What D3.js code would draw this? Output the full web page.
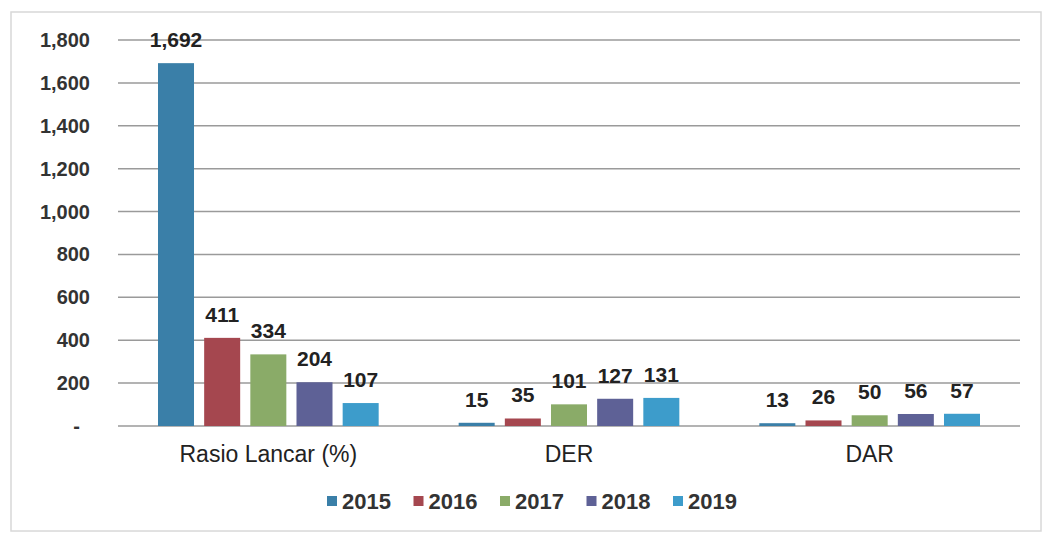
<!DOCTYPE html>
<html>
<head>
<meta charset="utf-8">
<script src="https://cdn.jsdelivr.net/npm/d3@7"></script>
<style>
body{margin:0;background:#fff;}
svg text{font-family:"Liberation Sans",Arial,sans-serif;}
</style>
</head>
<body>
<script>
var categories = ['Rasio Lancar (%)','DER','DAR'];
var years = ['2015','2016','2017','2018','2019'];
var values = [
	[1692,411,334,204,107],
	[15,35,101,127,131],
	[13,26,50,56,57]
];
var yTicks = [0,200,400,600,800,1000,1200,1400,1600,1800];
var colors = ['#3a7fa8','#a5474f','#8aab68','#5e6196','#3d9ccb'];

var width = 1044, height = 534;
var svg = d3.select('body').append('svg').attr('width',width).attr('height',height);

//frame
svg.append('rect').attr('x',11).attr('y',12).attr('width',1030).attr('height',519)
	.attr('fill','none').attr('stroke','#d8d8d8').attr('stroke-width',1.5);

var x0 = d3.scaleBand().domain(categories).range([118,1020]);
var x1 = d3.scaleBand().domain(years).range([40,x0.bandwidth()-40]).paddingInner(0.22);
var y = d3.scaleLinear().domain([0,1800]).range([426,40]);

//grid
svg.append('g').selectAll('line').data(yTicks).enter()
	.append('line')
	.attr('x1',118).attr('x2',1020)
	.attr('y1',function(d){return y(d);}).attr('y2',function(d){return y(d);})
	.attr('stroke','#9a9a9a').attr('stroke-width',1.5);

//y labels
svg.append('g').selectAll('text').data(yTicks).enter()
	.append('text')
	.attr('x',function(d){return d === 0 ? 80 : 90;})
	.attr('y',function(d){return y(d)+7;})
	.attr('text-anchor','end')
	.attr('font-size',20).attr('font-weight','bold').attr('fill','#333')
	.text(function(d){return d === 0 ? '-' : d3.format(',')(d);});

//bars
var groups = svg.append('g').selectAll('g').data(categories).enter()
	.append('g')
	.attr('transform',function(d){return 'translate('+x0(d)+',0)';});

groups.selectAll('rect').data(function(d,i){return values[i].map(function(v,j){return {year:years[j],value:v,idx:j};});}).enter()
	.append('rect')
	.attr('x',function(d){return x1(d.year);})
	.attr('y',function(d){return y(d.value);})
	.attr('width',x1.bandwidth())
	.attr('height',function(d){return y(0)-y(d.value);})
	.attr('fill',function(d){return colors[d.idx];});

groups.selectAll('text').data(function(d,i){return values[i].map(function(v,j){return {year:years[j],value:v};});}).enter()
	.append('text')
	.attr('x',function(d){return x1(d.year)+x1.bandwidth()/2;})
	.attr('y',function(d){return y(d.value)-16;})
	.attr('text-anchor','middle')
	.attr('font-size',21).attr('font-weight','bold').attr('fill','#222')
	.text(function(d){return d3.format(',')(d.value);});

//category labels
svg.append('g').selectAll('text').data(categories).enter()
	.append('text')
	.attr('x',function(d){return x0(d)+x0.bandwidth()/2;})
	.attr('y',462)
	.attr('text-anchor','middle')
	.attr('font-size',23).attr('fill','#222')
	.text(function(d){return d;});

//legend
var legend = svg.append('g').selectAll('g').data(years).enter()
	.append('g')
	.attr('transform',function(d,i){return 'translate('+(327+i*86.5)+',496)';});
legend.append('rect').attr('width',10).attr('height',10)
	.attr('fill',function(d,i){return colors[i];});
legend.append('text').attr('x',15).attr('y',13)
	.attr('font-size',22).attr('font-weight','bold').attr('fill','#333')
	.text(function(d){return d;});
</script>
</body>
</html>
